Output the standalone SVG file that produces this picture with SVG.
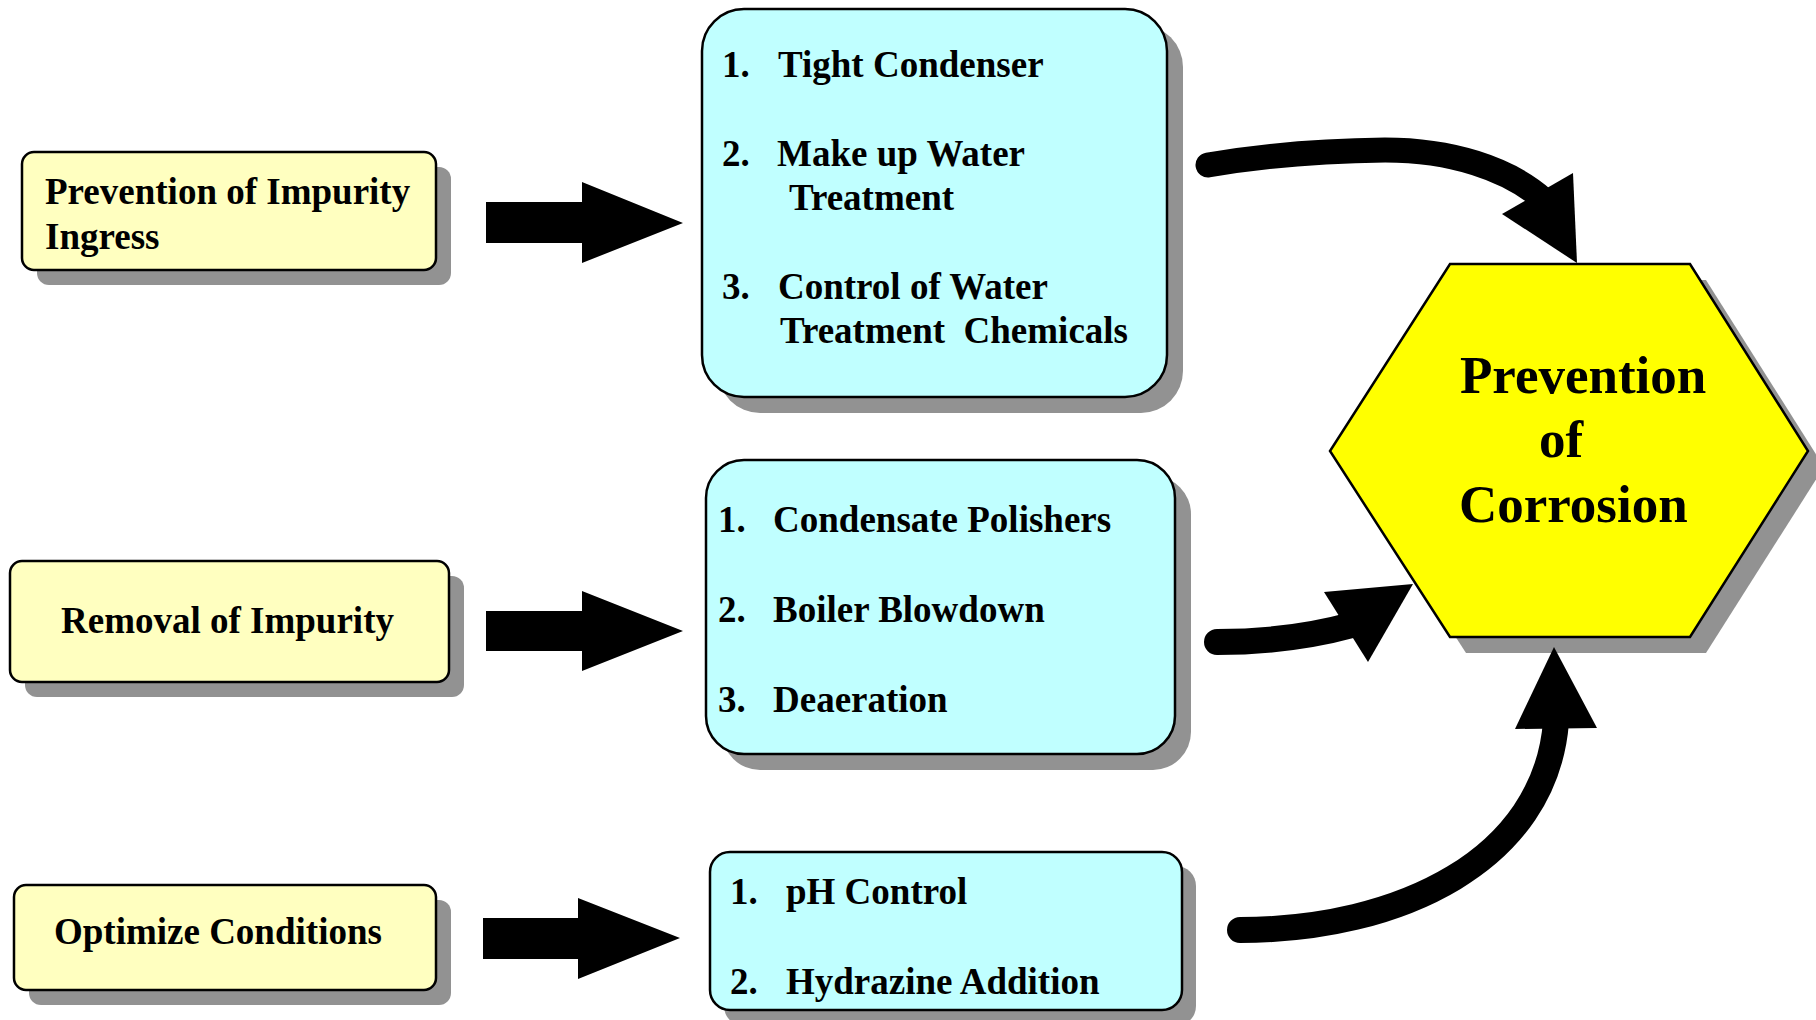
<svg xmlns="http://www.w3.org/2000/svg" width="1816" height="1020" viewBox="0 0 1816 1020">
<style>
.t{font-family:"Liberation Serif","Times New Roman",serif;font-weight:bold;font-size:37px;fill:#000;white-space:pre}
.h{font-family:"Liberation Serif","Times New Roman",serif;font-weight:bold;font-size:53px;fill:#000}
.sh{fill:#929292}
.yb{fill:#FFFFC0;stroke:#000;stroke-width:2.5}
.cb{fill:#C0FFFF;stroke:#000;stroke-width:2.5}
.hex{fill:#FFFF00;stroke:#000;stroke-width:2.5}
.ln{fill:none;stroke:#000;stroke-linecap:round}
</style>
<rect width="1816" height="1020" fill="#fff"/>
<g id="node-prevention-ingress">
<rect class="sh" x="37" y="167" width="414" height="118" rx="12"/>
<rect class="yb" x="22" y="152" width="414" height="118" rx="12"/>
<text class="t" x="45" y="204">Prevention of Impurity</text>
<text class="t" x="45" y="249">Ingress</text>
</g>
<g id="node-removal">
<rect class="sh" x="25" y="576" width="439" height="121" rx="12"/>
<rect class="yb" x="10" y="561" width="439" height="121" rx="12"/>
<text class="t" x="61" y="633">Removal of Impurity</text>
</g>
<g id="node-optimize">
<rect class="sh" x="29" y="900" width="422" height="105" rx="12"/>
<rect class="yb" x="14" y="885" width="422" height="105" rx="12"/>
<text class="t" x="54" y="944">Optimize Conditions</text>
</g>
<g id="node-list1">
<rect class="sh" x="718" y="25" width="465" height="388" rx="42"/>
<rect class="cb" x="702" y="9" width="465" height="388" rx="42"/>
<text class="t" x="722" y="77">1.</text><text class="t" x="778" y="77">Tight Condenser</text>
<text class="t" x="722" y="166">2.</text><text class="t" x="777" y="166">Make up Water</text>
<text class="t" x="789" y="210">Treatment</text>
<text class="t" x="722" y="299">3.</text><text class="t" x="778" y="299">Control of Water</text>
<text class="t" x="780" y="343">Treatment  Chemicals</text>
</g>
<g id="node-list2">
<rect class="sh" x="722" y="476" width="469" height="294" rx="38"/>
<rect class="cb" x="706" y="460" width="469" height="294" rx="38"/>
<text class="t" x="718" y="532">1.</text><text class="t" x="773" y="532">Condensate Polishers</text>
<text class="t" x="718" y="622">2.</text><text class="t" x="773" y="622">Boiler Blowdown</text>
<text class="t" x="718" y="712">3.</text><text class="t" x="773" y="712">Deaeration</text>
</g>
<g id="node-list3">
<rect class="sh" x="724" y="866" width="472" height="160" rx="20"/>
<rect class="cb" x="710" y="852" width="472" height="158" rx="20"/>
<text class="t" x="730" y="904">1.</text><text class="t" x="786" y="904">pH Control</text>
<text class="t" x="730" y="994">2.</text><text class="t" x="786" y="994">Hydrazine Addition</text>
</g>
<g id="node-corrosion">
<polygon class="sh" points="1466,280 1706,280 1824,467 1706,653 1466,653 1346,467"/>
<polygon class="hex" points="1450,264 1690,264 1808,451 1690,637 1450,637 1330,451"/>
<text class="h" x="1460" y="393">Prevention</text>
<text class="h" x="1539" y="457">of</text>
<text class="h" x="1459" y="522">Corrosion</text>
</g>
<g id="connectors">
<polygon points="486,202 582,202 582,182 683,223 582,263 582,243 486,243"/>
<polygon points="486,611 582,611 582,591 683,631 582,671 582,651 486,651"/>
<polygon points="483,918 578,918 578,898 680,938 578,979 578,959 483,959"/>
<path class="ln" stroke-width="25" d="M1208 165 Q1290 151 1385 150 C1450 150 1508 168 1544 200"/>
<polygon points="1573,173 1577,263 1502,214"/>
<path class="ln" stroke-width="26" d="M1217 642 Q1290 642 1352 625"/>
<polygon points="1324,592 1413,584 1368,662"/>
<path class="ln" stroke-width="26" d="M1240 930 C1400 930 1545 860 1556 722"/>
<polygon points="1554,647 1597,728 1515,729"/>
</g>
</svg>
